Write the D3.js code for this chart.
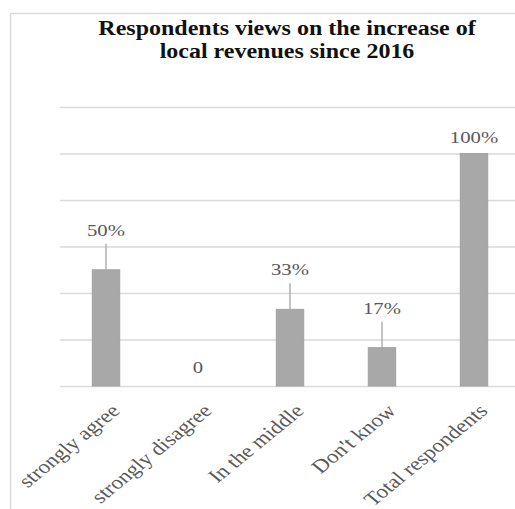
<!DOCTYPE html>
<html>
<head>
<meta charset="utf-8">
<script src="https://cdn.jsdelivr.net/npm/d3@7"></script>
<style>
  body { margin: 0; background: #fff; }
  svg { display: block; }
</style>
</head>
<body>
<script>
// Respondents views bar chart (re-drawn from a stretched screenshot)

const categories = ['strongly agree', 'strongly disagree', 'In the middle', "Don't know", 'Total respondents'];
const values = [50, 0, 33, 16.5, 100];
const valueLabels = ['50%', '0', '33%', '17%', '100%'];
const gridTicks = [0, 20, 40, 60, 80, 100, 120];
const titleLines = ['Respondents views on the increase of', 'local revenues since 2016'];

const width = 515;
const height = 509;
const margin = ({top: 107, right: 0, bottom: 123, left: 60});
const stretch = 1.22; // the source picture is squeezed wider than it is tall
const serif = '"Liberation Serif", "Times New Roman", serif';

const bars = categories.map((c, i) => ({cat: c, value: values[i], label: valueLabels[i]}));

const svg = d3.select('body')
  .append('svg')
  .attr('width', width)
  .attr('height', height);

// outer frame of the chart area
svg.append('rect')
  .attr('x', 10.5)
  .attr('y', 13.5)
  .attr('width', 700)
  .attr('height', 700)
  .attr('fill', 'none')
  .attr('stroke', '#d9d9d9')
  .attr('stroke-width', 1.5);

const xScale = d3.scaleBand()
  .domain(categories)
  .range([margin.left, 520])
  .paddingInner(0.7)
  .paddingOuter(0.35);

const yScale = d3.scaleLinear()
  .domain([0, 120])
  .range([height - margin.bottom, margin.top]);

// gridlines
const grid = svg.append('g')
  .attr('transform', `translate(${margin.left},0)`)
  .call(d3.axisLeft(yScale).tickValues(gridTicks).tickSize(-(width - margin.left)).tickFormat(''));
grid.select('.domain').remove();
grid.selectAll('line').attr('stroke', '#d9d9d9').attr('stroke-width', 1.5);

// bars
svg.append('g')
  .selectAll('rect')
  .data(bars)
  .join('rect')
  .attr('x', d => xScale(d.cat))
  .attr('y', d => yScale(d.value))
  .attr('width', xScale.bandwidth())
  .attr('height', d => yScale(0) - yScale(d.value))
  .attr('fill', '#a8a8a8')
  .attr('stroke', '#9c9c9c')
  .attr('stroke-width', 0.8);

// data labels, the middle ones sit higher and get a leader line
const cx = d => xScale(d.cat) + xScale.bandwidth() / 2;
const maxValue = d3.max(values);
const hasLeader = d => d.value > 0 && d.value < maxValue;
const lift = d => hasLeader(d) ? 34 : (d.value === 0 ? 13 : 11);

svg.append('g')
  .selectAll('line')
  .data(bars.filter(hasLeader))
  .join('line')
  .attr('x1', cx)
  .attr('x2', cx)
  .attr('y1', d => yScale(d.value) - lift(d) + 8)
  .attr('y2', d => yScale(d.value))
  .attr('stroke', '#a6a6a6')
  .attr('stroke-width', 1.3);

svg.append('g')
  .selectAll('text')
  .data(bars)
  .join('text')
  .attr('transform', d => `translate(${cx(d)},${yScale(d.value) - lift(d)}) scale(${stretch},1)`)
  .attr('text-anchor', 'middle')
  .attr('font-family', serif)
  .attr('font-size', 17)
  .attr('fill', '#595959')
  .text(d => d.label);

// x axis labels, rotated
const xAxis = svg.append('g')
  .attr('transform', `translate(0,${height - margin.bottom})`)
  .call(d3.axisBottom(xScale).tickSize(0));
xAxis.select('.domain').remove();
xAxis.selectAll('text')
  .attr('x', 0)
  .attr('y', 0)
  .attr('dy', 0)
  .attr('transform', `translate(15,26) scale(${stretch},1) rotate(-45)`)
  .style('text-anchor', 'end')
  .attr('font-family', serif)
  .attr('font-size', 19)
  .attr('fill', '#595959');

// title
svg.append('text')
  .attr('transform', `translate(287,0) scale(1.2,1)`)
  .attr('text-anchor', 'middle')
  .attr('font-family', serif)
  .attr('font-weight', 'bold')
  .attr('font-size', 20)
  .attr('fill', '#111')
  .selectAll('tspan')
  .data(titleLines)
  .join('tspan')
  .attr('x', 0)
  .attr('y', (d, i) => 35 + i * 23)
  .text(d => d);
</script>
</body>
</html>
